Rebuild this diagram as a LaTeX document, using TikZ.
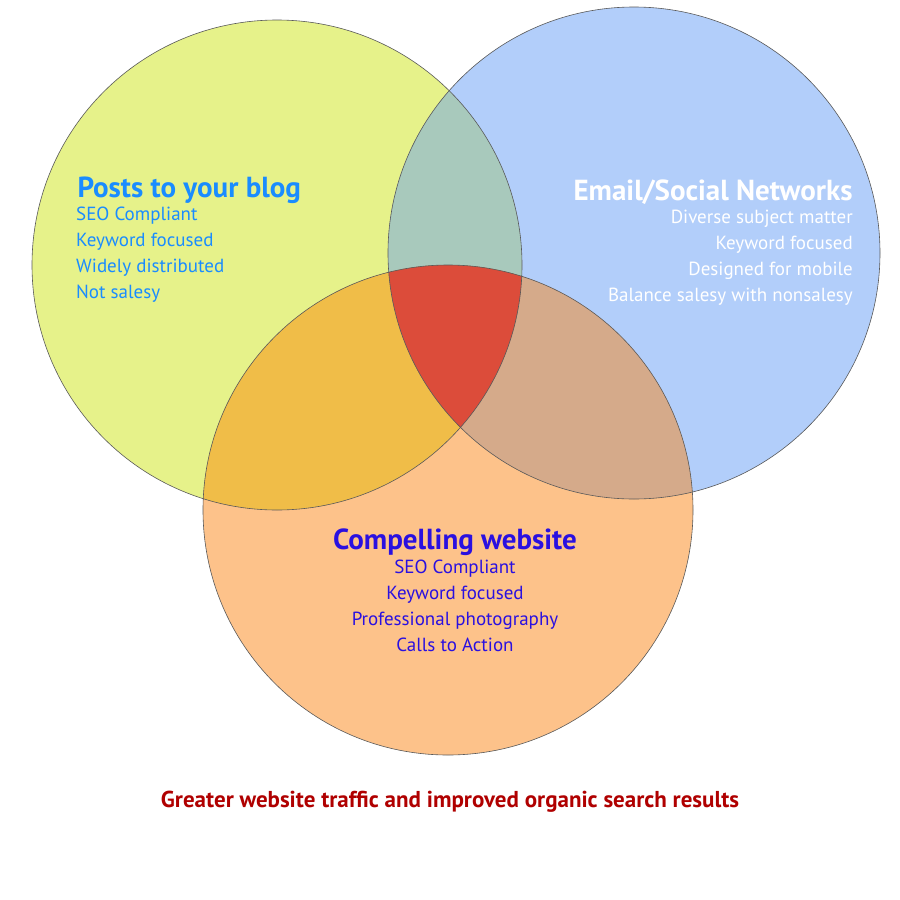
\documentclass[tikz,border=0pt]{standalone}
\usepackage{fontspec}
\setmainfont{PT Sans}
\definecolor{blogfill}{HTML}{E6F28A}
\definecolor{mailfill}{HTML}{B2CEFA}
\definecolor{webfill}{HTML}{FDC28A}
\definecolor{blogmail}{HTML}{A8C9BC}
\definecolor{blogweb}{HTML}{F0BD48}
\definecolor{mailweb}{HTML}{D5AA8A}
\definecolor{allthree}{HTML}{DC4C3A}
\definecolor{blogtext}{HTML}{1A8CFF}
\definecolor{webtext}{HTML}{2A10E0}
\definecolor{resulttext}{HTML}{B00000}
\begin{document}
\begin{tikzpicture}[x=1pt,y=-1pt]
  \tikzset{
    edge/.style={draw=black!65,line width=0.6pt},
    head/.style={font=\fontsize{29}{32}\selectfont\bfseries},
    item/.style={font=\fontsize{19}{26}\selectfont},
  }
  \useasboundingbox (0,0) rectangle (900,900);
  \fill[white] (0,0) rectangle (900,900);
  \def\blog{(277,265) circle[radius=245]}
  \def\mail{(634,253) circle[radius=246]}
  \def\web{(448,510) circle[radius=245]}
  % base circles
  \fill[blogfill] \blog;
  \fill[mailfill] \mail;
  \fill[webfill] \web;
  % overlaps
  \begin{scope} \clip \blog; \fill[blogmail] \mail; \end{scope}
  \begin{scope} \clip \blog; \fill[blogweb] \web; \end{scope}
  \begin{scope} \clip \mail; \fill[mailweb] \web; \end{scope}
  \begin{scope} \clip \blog; \clip \mail; \fill[allthree] \web; \end{scope}
  % outlines
  \draw[edge] \blog;
  \draw[edge] \mail;
  \draw[edge] \web;
  % texts
  \node[head,text=blogtext,anchor=west] (blogtitle) at (74,190) {Posts to your blog};
  \node[item,text=blogtext,anchor=north west,align=left,inner sep=0pt]
    (blogitems) at (76,207) {SEO Compliant\\Keyword focused\\Widely distributed\\Not salesy};
  \node[head,text=white,anchor=east] (mailtitle) at (856,192) {Email/Social Networks};
  \node[item,text=white,anchor=north east,align=right,inner sep=0pt]
    (mailitems) at (853,210) {Diverse subject matter\\Keyword focused\\Designed for mobile\\Balance salesy with nonsalesy};
  \node[head,text=webtext] (webtitle) at (455,542) {Compelling website};
  \node[item,text=webtext,anchor=north,align=center,inner sep=0pt]
    (webitems) at (455,560) {SEO Compliant\\Keyword focused\\Professional photography\\Calls to Action};
  \node[font=\fontsize{23}{26}\selectfont\bfseries,text=resulttext] (result) at (450,802)
    {Greater website traffic and improved organic search results};
\end{tikzpicture}
\end{document}
